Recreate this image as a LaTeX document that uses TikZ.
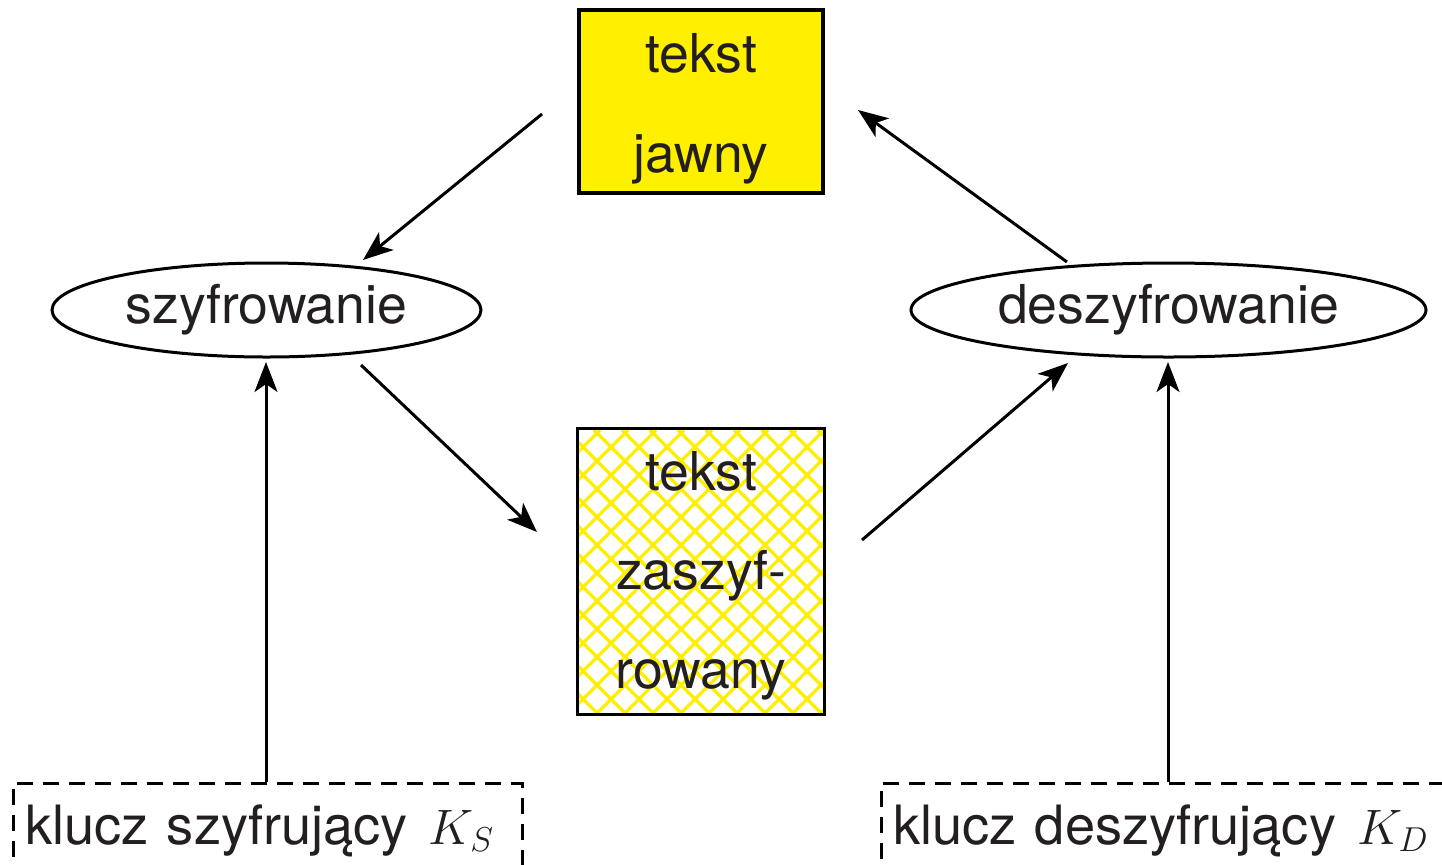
\documentclass[tikz,border=0pt]{standalone}
\usepackage{fontspec}
\setmainfont{TeX Gyre Heros}
\usetikzlibrary{shapes.geometric,arrows.meta}
\definecolor{plainyellow}{RGB}{255,240,0}
\definecolor{hatchyellow}{RGB}{255,238,0}
\definecolor{inkgray}{RGB}{35,31,32}
\begin{document}
\begin{tikzpicture}[x=0.5pt,y=-0.5pt,
  every node/.style={font=\fontsize{26.8}{32}\selectfont, text=inkgray},
  conn/.style={line width=1.5pt, -{Stealth[length=15pt,width=11.5pt,inset=4pt]}},
  textbox/.style={line width=1.6pt, minimum width=122pt, inner sep=0pt, rectangle},
  oval/.style={draw, ellipse, line width=1.5pt, minimum height=47pt, inner sep=0pt},
  keybox/.style={draw, dashed, dash pattern=on 8pt off 5pt, line width=1.4pt,
    anchor=north west, align=left, inner xsep=6pt, inner ysep=9.5pt,
    text height=21pt, text depth=20pt, font=\fontsize{27.1}{32}\selectfont},
  line/.style={anchor=base}
]
\useasboundingbox (0,0) rectangle (1442,864);

% plaintext box
\node[textbox, draw, fill=plainyellow, minimum height=91.5pt] (jawny) at (701,101.5) {};
\node[line] at (701,72) {tekst};
\node[line] at (701,172) {jawny};

% ciphertext box with yellow cross-hatching
\node[textbox, minimum height=141.5pt] (zasz) at (701,571.5) {};
\begin{scope}
  \clip (zasz.south west) rectangle (zasz.north east);
  \foreach \i in {286,314,...,840} {
    \draw[hatchyellow, line width=1.6pt] (\i,430) -- ++(283,283);
  }
  \foreach \i in {572,600,...,1130} {
    \draw[hatchyellow, line width=1.6pt] (\i,430) -- ++(-283,283);
  }
\end{scope}
\draw[line width=1.6pt] (zasz.south west) rectangle (zasz.north east);
\node[line] at (701,490) {tekst};
\node[line] at (701,589) {zaszyf-};
\node[line] at (701,688) {rowany};

% operations
\node[oval, minimum width=214.5pt] (szyf) at (266.5,310) {szyfrowanie};
\node[oval, minimum width=257.5pt] (deszyf) at (1168.5,310) {deszyfrowanie};

% keys
\node[keybox, text width=242.5pt] (ks) at (12,782) {klucz szyfrujący \hspace{1.5pt}$K_S$};
\node[keybox, text width=320pt] (kd) at (880,782) {klucz deszyfrujący \hspace{1.5pt}$K_D$};

% arrow end points
\coordinate (a1s) at (542,114);  \coordinate (a1e) at (363,260);
\coordinate (a2s) at (361,365);  \coordinate (a2e) at (537,532);
\coordinate (a3s) at (862,540);  \coordinate (a3e) at (1068,363);
\coordinate (a4s) at (1067,262); \coordinate (a4e) at (858,110);
\coordinate (ksTop) at (266,782); \coordinate (ksTip) at (266,362);
\coordinate (kdTop) at (1168,782); \coordinate (kdTip) at (1168,362);

\draw[conn] (a1s) -- (a1e);
\draw[conn] (a2s) -- (a2e);
\draw[conn] (a3s) -- (a3e);
\draw[conn] (a4s) -- (a4e);
\draw[conn] (ksTop) -- (ksTip);
\draw[conn] (kdTop) -- (kdTip);
\end{tikzpicture}
\end{document}
